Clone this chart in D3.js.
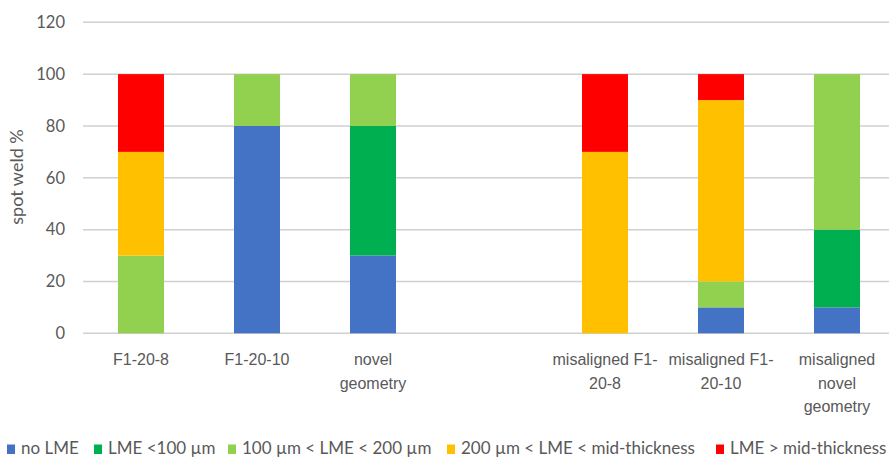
<!DOCTYPE html>
<html>
<head>
<meta charset="utf-8">
<script src="https://cdn.jsdelivr.net/npm/d3@7"></script>
<style>
  html, body { margin: 0; padding: 0; background: #fff; }
  svg { display: block; font-family: Lato, "Open Sans", sans-serif; }
</style>
</head>
<body>
<svg id="chart" width="889" height="459"></svg>
<script>
// ---- data ----
const categories = ["F1-20-8", "F1-20-10", "novel geometry", " ", "misaligned F1-20-8", "misaligned F1-20-10", "misaligned novel geometry"];
const categoryLines = [["F1-20-8"], ["F1-20-10"], ["novel", "geometry"], [""], ["misaligned F1-", "20-8"], ["misaligned F1-", "20-10"], ["misaligned", "novel", "geometry"]];
const seriesNames = ["no LME", "LME <100 \u00b5m", "100 \u00b5m < LME < 200 \u00b5m", "200 \u00b5m < LME < mid-thickness", "LME > mid-thickness"];
const noLME      = [0, 80, 30, 0, 0, 10, 10];
const lmeLt100   = [0, 0, 50, 0, 0, 0, 30];
const lme100_200 = [30, 20, 20, 0, 0, 10, 60];
const lme200_mid = [40, 0, 0, 0, 70, 70, 0];
const lmeGtMid   = [30, 0, 0, 0, 30, 10, 0];
const yTicks = [0, 20, 40, 60, 80, 100, 120];
const colors = ["#4472C4", "#00B050", "#92D050", "#FFC000", "#FF0000"];

const seriesValues = [noLME, lmeLt100, lme100_200, lme200_mid, lmeGtMid];
const table = categories.map((c, i) => {
  const row = { cat: c };
  seriesNames.forEach((s, j) => row[s] = seriesValues[j][i]);
  return row;
});

// ---- layout ----
const svg = d3.select("#chart");
const textColor = "#595959";
const plotLeft = 83, plotRight = 895, plotTop = 22.3, plotBottom = 333.3;

const x = d3.scaleBand().domain(categories).range([plotLeft, plotRight])
  .paddingInner(0.6034).paddingOuter(0.3017);
const y = d3.scaleLinear().domain([0, 120]).range([plotBottom, plotTop]);

// gridlines
svg.append("g").selectAll("line").data(yTicks).join("line")
  .attr("x1", plotLeft).attr("x2", 889)
  .attr("y1", d => y(d)).attr("y2", d => y(d))
  .attr("stroke", "#d0d0d0").attr("stroke-width", 1.5);

// y axis tick labels
const yAxis = d3.axisLeft(y).tickValues(yTicks).tickSize(0).tickPadding(0);
const gy = svg.append("g").attr("transform", "translate(65,0)").call(yAxis);
gy.select(".domain").remove();
gy.selectAll("text").attr("fill", textColor).style("font-size", "16.5px")
  .style("font-family", "Lato, 'Open Sans', sans-serif");

// stacked bars
const stack = d3.stack().keys(seriesNames)(table);
svg.append("g").selectAll("g").data(stack).join("g")
  .attr("fill", (d, i) => colors[i])
  .selectAll("rect").data(d => d).join("rect")
  .attr("x", d => x(d.data.cat))
  .attr("width", x.bandwidth())
  .attr("y", d => y(d[1]))
  .attr("height", d => y(d[0]) - y(d[1]));

// x axis labels
const xAxis = d3.axisBottom(x).tickSize(0).tickFormat(() => "");
const gx = svg.append("g").attr("transform", `translate(0,${plotBottom})`).call(xAxis);
gx.select(".domain").remove();
gx.selectAll(".tick").each(function(d, i) {
  const t = d3.select(this).append("text")
    .attr("text-anchor", "middle").attr("fill", textColor)
    .style("font-size", "16px");
  categoryLines[i].forEach((line, k) => {
    t.append("tspan").attr("x", 0).attr("y", 32 + k * 23.5).text(line);
  });
});

// y axis title
svg.append("text")
  .attr("transform", "translate(23,177) rotate(-90)")
  .attr("text-anchor", "middle").attr("fill", textColor)
  .style("font-size", "18px").text("spot weld %");

// legend
const legendX = [7, 94, 228, 447, 716];
const lg = svg.append("g").attr("transform", "translate(0,449)");
seriesNames.forEach((s, i) => {
  lg.append("rect").attr("x", legendX[i]).attr("y", -4.5).attr("width", 8).attr("height", 9.5).attr("fill", colors[i]);
  lg.append("text").attr("x", legendX[i] + 14).attr("y", 5)
    .attr("fill", textColor).style("font-size", "17px").text(s);
});
</script>
</body>
</html>
